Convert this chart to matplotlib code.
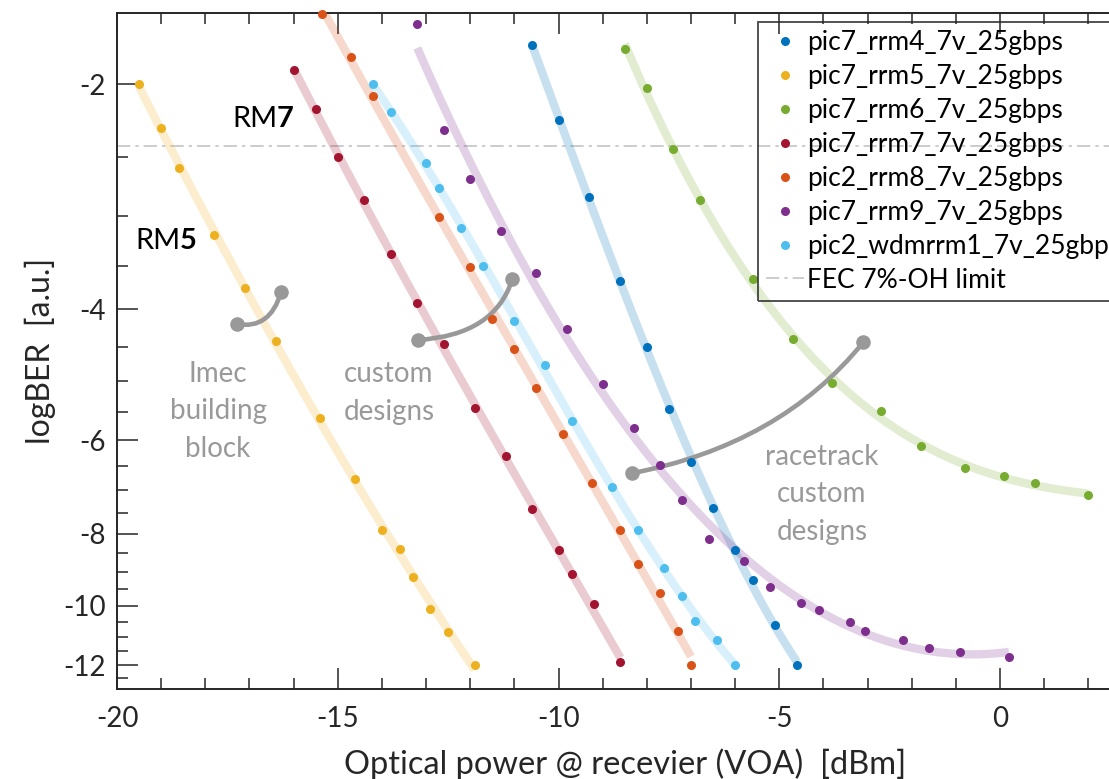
import numpy as np
import matplotlib
matplotlib.use('Agg')
import matplotlib.pyplot as plt
from matplotlib.path import Path
from matplotlib.patches import PathPatch
from matplotlib.ticker import FixedLocator, MultipleLocator, FuncFormatter, NullFormatter

plt.rcParams['font.family'] = ['Lato', 'DejaVu Sans']
plt.rcParams['axes.unicode_minus'] = False

# optical power at receiver [dBm] and measured logBER per device
p_rrm4 = [-10.6, -10.0, -9.3, -8.6, -8.0, -7.5, -7.0, -6.5, -6.0, -5.6, -5.1, -4.6]
ber_rrm4 = [-1.77, -2.23, -2.83, -3.67, -4.49, -5.44, -6.41, -7.38, -8.42, -9.24, -10.61, -12.0]

p_rrm5 = [-19.5, -19.0, -18.6, -17.8, -17.1, -16.4, -15.4, -14.6, -14.0, -13.6, -13.3, -12.9, -12.5, -11.9]
ber_rrm5 = [-2.0, -2.29, -2.59, -3.18, -3.75, -4.42, -5.60, -6.75, -7.90, -8.39, -9.14, -10.10, -10.84, -12.0]

p_rrm6 = [-8.5, -8.0, -7.4, -6.8, -5.6, -4.7, -3.8, -2.7, -1.8, -0.8, 0.1, 0.8, 2.0]
ber_rrm6 = [-1.79, -2.02, -2.44, -2.86, -3.65, -4.39, -5.02, -5.47, -6.10, -6.53, -6.70, -6.84, -7.10]

p_rrm7 = [-16.0, -15.5, -15.0, -14.4, -13.8, -13.2, -12.6, -11.9, -11.2, -10.6, -10.0, -9.7, -9.2, -8.6]
ber_rrm7 = [-1.91, -2.16, -2.50, -2.86, -3.37, -3.93, -4.46, -5.42, -6.30, -7.41, -8.41, -9.07, -9.93, -11.89]

p_rrm8 = [-15.35, -14.7, -14.2, -12.7, -12.0, -11.5, -11.0, -10.5, -9.9, -9.25, -8.6, -8.2, -7.7, -7.3, -7.0]
ber_rrm8 = [-1.61, -1.84, -2.07, -3.01, -3.51, -4.13, -4.52, -5.11, -5.89, -6.84, -7.90, -8.78, -9.61, -10.81, -12.0]

p_rrm9 = [-13.2, -12.6, -12.0, -11.3, -10.5, -9.8, -9.0, -8.3, -7.7, -7.2, -6.6, -5.8, -5.2, -4.5,
          -4.1, -3.4, -3.05, -2.2, -1.6, -0.9, 0.2]
ber_rrm9 = [-1.66, -2.30, -2.68, -3.14, -3.58, -4.25, -5.04, -5.77, -6.48, -7.22, -8.14, -8.71, -9.44, -9.90,
            -10.13, -10.50, -10.81, -11.11, -11.40, -11.53, -11.71]

p_wdm1 = [-14.2, -13.8, -13.0, -12.7, -12.2, -11.7, -11.0, -10.3, -9.7, -8.8, -8.2, -7.6, -7.2, -6.9, -6.4, -6.0]
ber_wdm1 = [-2.00, -2.18, -2.55, -2.75, -3.11, -3.50, -4.15, -4.75, -5.65, -6.93, -7.90, -8.89, -9.71, -10.47, -11.11, -12.0]

fec_limit = np.log10(3.8e-3)

names = ['pic7_rrm4_7v_25gbps', 'pic7_rrm5_7v_25gbps', 'pic7_rrm6_7v_25gbps', 'pic7_rrm7_7v_25gbps',
         'pic2_rrm8_7v_25gbps', 'pic7_rrm9_7v_25gbps', 'pic2_wdmrrm1_7v_25gbps']
colors = ['#0072BD', '#EDB120', '#77AC30', '#A2142F', '#D95319', '#7E2F8E', '#4DBEEE']
powers = [p_rrm4, p_rrm5, p_rrm6, p_rrm7, p_rrm8, p_rrm9, p_wdm1]
bers = [ber_rrm4, ber_rrm5, ber_rrm6, ber_rrm7, ber_rrm8, ber_rrm9, ber_wdm1]

major_y = [-12, -10, -8, -6, -4, -2]
minor_y = [-12.5, -11.5, -11, -10.5, -9.5, -9, -8.5, -7.5, -7, -6.5, -5.5, -5, -4.5, -3.5, -3, -2.5]
major_x = [-20, -15, -10, -5, 0]


# y axis: BER-style scale, linear in log10(-logBER)
def fwd(y):
    y = np.asarray(y, dtype=float)
    with np.errstate(divide='ignore', invalid='ignore'):
        return -np.log10(-y)


def inv(u):
    return -10.0 ** (-np.asarray(u, dtype=float))


axc = '#262626'
fig = plt.figure(figsize=(11.09, 7.79), dpi=100)
ax = fig.add_axes([117 / 1109, 90 / 779, 1015.5 / 1109, 676 / 779])
ax.set_yscale('function', functions=(fwd, inv))

# cubic fits (in scale space) drawn as wide light bands
for p, b, c in zip(powers, bers, colors):
    p = np.array(p)
    coef = np.polyfit(p, fwd(b), 3)
    xx = np.linspace(p.min(), p.max(), 200)
    ax.plot(xx, inv(np.polyval(coef, xx)), color=c, alpha=0.22, lw=6, solid_capstyle='butt', zorder=2)

for p, b, c, n in zip(powers, bers, colors, names):
    ax.plot(p, b, 'o', color=c, ms=6.5, mew=0, label=n, clip_on=False, zorder=4)

ax.axhline(fec_limit, color='#c4c4c4', lw=1.2, dashes=(8, 3, 2, 3), label='FEC 7%-OH limit', zorder=1)

ax.set_xlim(-20, 3)
ax.set_ylim(-12.92, -1.604)
ax.xaxis.set_major_locator(FixedLocator(major_x))
ax.xaxis.set_minor_locator(MultipleLocator(1))
ax.yaxis.set_major_locator(FixedLocator(major_y))
ax.yaxis.set_minor_locator(FixedLocator(minor_y))
ax.yaxis.set_major_formatter(FuncFormatter(lambda v, pos: '%d' % round(v)))
ax.yaxis.set_minor_formatter(NullFormatter())
ax.xaxis.set_major_formatter(FuncFormatter(lambda v, pos: '%d' % round(v)))

ax.tick_params(which='both', direction='in', top=True, right=True, color=axc, width=1.1, labelcolor=axc, labelsize=20)
ax.tick_params(which='major', length=15)
ax.tick_params(which='minor', length=8)
ax.tick_params(axis='x', pad=12)
ax.tick_params(axis='y', pad=8)
for s in ax.spines.values():
    s.set_color(axc)
    s.set_linewidth(1.4)

ax.set_xlabel('Optical power @ recevier (VOA)  [dBm]', fontsize=23.5, color=axc, labelpad=12)
ax.set_ylabel('logBER  [a.u.]', fontsize=23, color=axc, labelpad=5)

leg = ax.legend(loc='upper left', bbox_to_anchor=(0.6312, 0.9867), fontsize=19, frameon=True, fancybox=False,
                edgecolor=axc, handlelength=1.45, handletextpad=0.12, labelspacing=0.34, borderpad=0.3,
                borderaxespad=0)
leg.get_frame().set_facecolor('none')
leg.get_frame().set_linewidth(1.4)

# labels
t7 = ax.text(0.1132, 0.8314, 'RM', transform=ax.transAxes, fontsize=21, color='black', va='baseline')
ax.annotate('7', xy=(1, 0), xycoords=t7, va='bottom', ha='left', fontsize=21, fontweight='bold')
t5 = ax.text(0.0177, 0.6509, 'RM', transform=ax.transAxes, fontsize=21, color='black', va='baseline')
ax.annotate('5', xy=(1, 0), xycoords=t5, va='bottom', ha='left', fontsize=21, fontweight='bold')

# gray notes, anchored at the baseline of their last line
gray = '#999999'
ax.text(0.0995, 0.3432, 'Imec\nbuilding\nblock', transform=ax.transAxes, fontsize=20, color=gray,
        ha='center', va='baseline', linespacing=1.55)
ax.text(0.2678, 0.3979, 'custom\ndesigns', transform=ax.transAxes, fontsize=20, color=gray,
        ha='center', va='baseline', linespacing=1.55)
ax.text(0.6942, 0.2204, 'racetrack\ncustom\ndesigns', transform=ax.transAxes, fontsize=20, color=gray,
        ha='center', va='baseline', linespacing=1.55)

# curved pointers (axes fraction: start, control, end)
pointers = [
    [(0.1179, 0.5399), (0.1507, 0.5311), (0.1615, 0.5868)],
    [(0.2967, 0.5163), (0.3722, 0.5237), (0.3892, 0.6061)],
    [(0.5067, 0.3191), (0.6529, 0.3609), (0.7349, 0.5129)],
]
for a, ctrl, b in pointers:
    path = Path([a, ctrl, b], [Path.MOVETO, Path.CURVE3, Path.CURVE3])
    ax.add_patch(PathPatch(path, transform=ax.transAxes, fc='none', ec=gray, lw=3.3, zorder=3, clip_on=False))
    ax.plot([a[0], b[0]], [a[1], b[1]], 'o', color=gray, ms=10.5, mew=0, transform=ax.transAxes, zorder=3,
            clip_on=False)

fig.savefig('out.png', dpi=100)
